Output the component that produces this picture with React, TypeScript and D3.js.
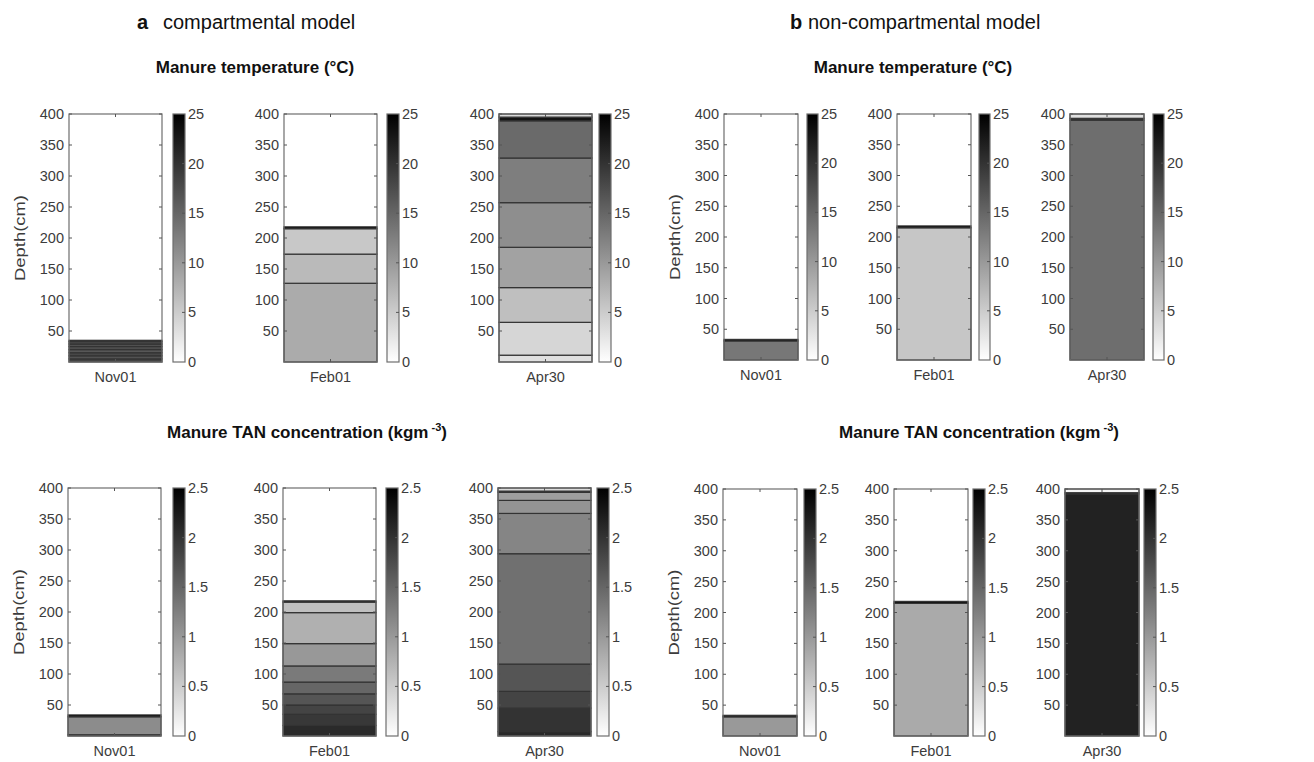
import * as d3 from 'd3';

type Layer = [number, number, number]; // bottom (cm), top (cm), value

const dates = ['Nov01', 'Feb01', 'Apr30'];
const depthTicks = [50, 100, 150, 200, 250, 300, 350, 400];
const tempTicks = [0, 5, 10, 15, 20, 25];
const tanTicks = [0, 0.5, 1, 1.5, 2, 2.5];

// a: compartmental model, manure temperature (°C)
const compTempNov01: Layer[] = [[0, 5, 18.5], [5, 10, 17], [10, 15, 18], [15, 20, 16.5], [20, 25, 17.5], [25, 29, 16.8], [29, 33, 17.8], [33, 35, 23.5]];
const compTempFeb01: Layer[] = [[0, 127, 8.2], [127, 174, 6.8], [174, 215, 5.4], [215, 218, 23.5]];
const compTempApr30: Layer[] = [[0, 11, 3.0], [11, 64, 4.0], [64, 120, 6.3], [120, 185, 9.1], [185, 257, 11.1], [257, 329, 12.6], [329, 389, 14.6], [389, 395, 23], [395, 400, 3.5]];

// a: compartmental model, manure TAN (kg m-3)
const compTanNov01: Layer[] = [[0, 2, 1.8], [2, 31, 1.13], [31, 34, 2.4]];
const compTanFeb01: Layer[] = [[0, 17, 2.09], [17, 35, 1.95], [35, 50, 1.83], [50, 68, 1.67], [68, 87, 1.5], [87, 113, 1.3], [113, 149, 1.01], [149, 199, 0.77], [199, 216, 0.62], [216, 218, 2.4]];
const compTanApr30: Layer[] = [[0, 7, 2.1], [7, 45, 2.0], [45, 72, 1.83], [72, 116, 1.67], [116, 294, 1.4], [294, 359, 1.2], [359, 380, 1.05], [380, 393, 0.95], [393, 395, 2.0], [395, 400, 0.35]];

// b: non-compartmental model, temperature
const ncTempNov01: Layer[] = [[0, 31, 13.3], [31, 33.5, 24]];
const ncTempFeb01: Layer[] = [[0, 215, 5.6], [215, 218, 24]];
const ncTempApr30: Layer[] = [[0, 390, 14.2], [390, 393, 20], [393, 400, 3]];

// b: non-compartmental model, TAN
const ncTanNov01: Layer[] = [[0, 31, 1.0], [31, 33.5, 2.4]];
const ncTanFeb01: Layer[] = [[0, 215, 0.83], [215, 218, 2.4]];
const ncTanApr30: Layer[] = [[0, 392, 2.17], [392, 394, 2.45], [394, 400, 0.1]];

const FONT = 'Liberation Sans, Arial, sans-serif';
const TXT = '#3c3c3c';

const rows = [
  { profiles: [compTempNov01, compTempFeb01, compTempApr30], ticks: tempTicks, grad: 'gTemp',
    xs: [69, 284, 499], cbx: [173, 387, 599], w: 93, cbw: 12, y0: 114, y1: 362 },
  { profiles: [compTanNov01, compTanFeb01, compTanApr30], ticks: tanTicks, grad: 'gTan',
    xs: [68, 283, 498], cbx: [173, 386, 597], w: 93, cbw: 12, y0: 488, y1: 736 },
  { profiles: [ncTempNov01, ncTempFeb01, ncTempApr30], ticks: tempTicks, grad: 'gTemp',
    xs: [724, 897, 1070], cbx: [807, 979, 1153], w: 74, cbw: 11, y0: 114, y1: 360 },
  { profiles: [ncTanNov01, ncTanFeb01, ncTanApr30], ticks: tanTicks, grad: 'gTan',
    xs: [723, 894, 1065], cbx: [804, 973, 1144], w: 74, cbw: 12, y0: 489, y1: 736 },
];

function Panel({ x, cbx, w, cbw, y0, y1, layers, ticks, grad, date, showYLabel }: any) {
  const y = d3.scaleLinear().domain([0, 400]).range([y1, y0]);
  const max = ticks[ticks.length - 1];
  const color = d3.scaleLinear<string>().domain([0, max]).range(['#ffffff', '#000000']);
  const cy = d3.scaleLinear().domain([0, max]).range([y1, y0]);
  const mid = x + w / 2;
  return (
    <g>
      <rect x={x} y={y0} width={w} height={y1 - y0} fill="#fff" />
      {layers.map((l: Layer, i: number) => (
        <rect key={i} x={x} y={y(l[1])} width={w} height={y(l[0]) - y(l[1])}
          fill={color(l[2])} stroke="#333" strokeWidth={1.2} />
      ))}
      <rect x={x} y={y0} width={w} height={y1 - y0} fill="none" stroke="#6e6e6e" strokeWidth={1.2} />
      {depthTicks.map(t => (
        <g key={t}>
          <line x1={x} x2={x + 3} y1={y(t)} y2={y(t)} stroke="#555" />
          <line x1={x + w - 3} x2={x + w} y1={y(t)} y2={y(t)} stroke="#555" />
          <text x={x - 5} y={y(t)} dy="0.35em" textAnchor="end" fontSize={14.5} fill={TXT} fontFamily={FONT}>{t}</text>
        </g>
      ))}
      <line x1={mid} x2={mid} y1={y0} y2={y0 + 3} stroke="#555" />
      <line x1={mid} x2={mid} y1={y1} y2={y1 - 3} stroke="#555" />
      <text x={mid} y={y1 + 20} textAnchor="middle" fontSize={14.5} fill={TXT} fontFamily={FONT}>{date}</text>
      {showYLabel && (
        <text transform={`translate(${x - 44},${(y0 + y1) / 2}) rotate(-90)`} textAnchor="middle"
          fontSize={14} fill={TXT} fontFamily={FONT} textLength={86} lengthAdjust="spacingAndGlyphs">Depth(cm)</text>
      )}
      <rect x={cbx} y={y0} width={cbw} height={y1 - y0} fill={`url(#${grad})`} stroke="#6e6e6e" strokeWidth={1.2} />
      {ticks.map((t: number) => (
        <g key={t}>
          {t > 0 && t < max && <line x1={cbx + cbw - 3} x2={cbx + cbw} y1={cy(t)} y2={cy(t)} stroke="#555" />}
          <text x={cbx + cbw + 3} y={cy(t)} dy="0.35em" fontSize={14.5} fill={TXT} fontFamily={FONT}>{t}</text>
        </g>
      ))}
    </g>
  );
}

export default function App() {
  const grey = d3.scaleLinear<string>().domain([0, 1]).range(['#ffffff', '#000000']);
  return (
    <svg width={1314} height={762} style={{ position: 'absolute', left: 0, top: 0, background: '#fff' }}>
      <defs>
        {['gTemp', 'gTan'].map(id => (
          <linearGradient key={id} id={id} x1="0" y1="1" x2="0" y2="0">
            <stop offset="0%" stopColor={grey(0)} />
            <stop offset="100%" stopColor={grey(1)} />
          </linearGradient>
        ))}
      </defs>
      <rect width={1314} height={762} fill="#fff" />

      <text x={137} y={29} fontSize={20} fontFamily={FONT} fill="#111">
        <tspan fontWeight="bold">a</tspan><tspan x={163}>compartmental model</tspan>
      </text>
      <text x={790} y={29} fontSize={20} fontFamily={FONT} fill="#111">
        <tspan fontWeight="bold">b</tspan><tspan x={808}>non-compartmental model</tspan>
      </text>

      {[255, 913].map(cx => (
        <text key={cx} x={cx} y={73} textAnchor="middle" fontSize={17} fontWeight="bold" fontFamily={FONT} fill="#111">
          Manure temperature (°C)
        </text>
      ))}
      {[307, 979].map(cx => (
        <text key={cx} x={cx} y={438} textAnchor="middle" fontSize={17} fontWeight="bold" fontFamily={FONT} fill="#111">
          Manure TAN concentration (kgm<tspan dy={-7} fontSize={11}> -3</tspan><tspan dy={7}>)</tspan>
        </text>
      ))}

      {rows.map((r, ri) => r.profiles.map((layers, i) => (
        <Panel key={`${ri}-${i}`} x={r.xs[i]} cbx={r.cbx[i]} w={r.w} cbw={r.cbw} y0={r.y0} y1={r.y1}
          layers={layers} ticks={r.ticks} grad={r.grad} date={dates[i]} showYLabel={i === 0} />
      )))}
    </svg>
  );
}
